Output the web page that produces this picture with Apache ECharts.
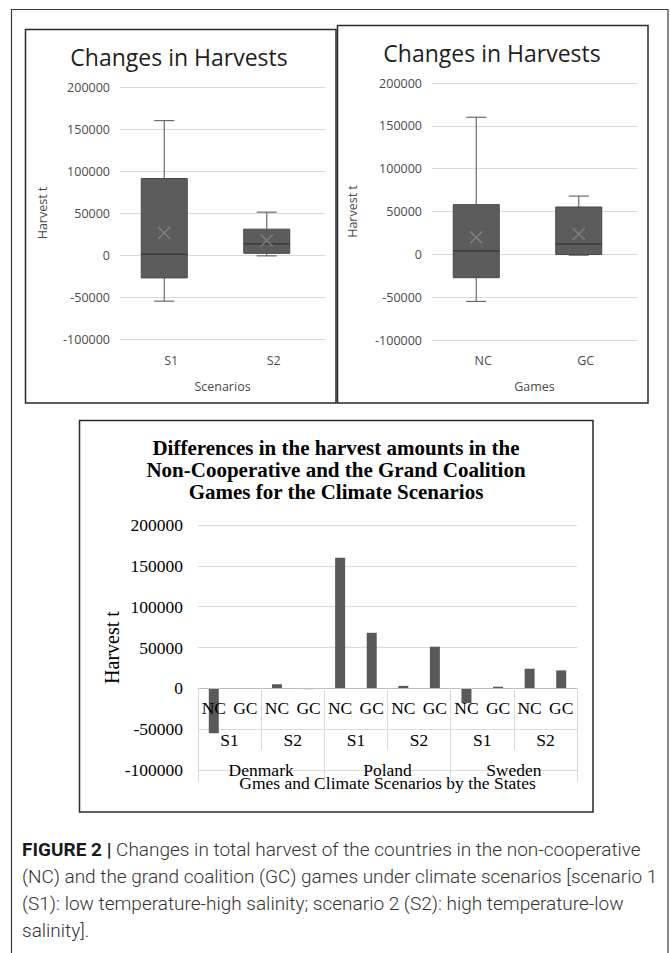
<!DOCTYPE html>
<html>
<head>
<meta charset="utf-8">
<title>Changes in Harvests</title>
<script src="https://cdn.jsdelivr.net/npm/echarts@6/dist/echarts.min.js"></script>
<style>
  html, body { margin: 0; padding: 0; background: #ffffff; }
  #chart { width: 670px; height: 953px; }
</style>
</head>
<body>
<div id="chart"></div>
<script>
// ---- data ----
const yTicks = { min: -100000, max: 200000, step: 50000 };

// box & whisker summaries: [min, Q1, median, Q3, max, mean]
const scenarioNames = ['S1', 'S2'];
const scenarioS1 = [-55000, -27250, 1000, 91000, 160000, 26200];
const scenarioS2 = [-1000, 2000, 13500, 30750, 51000, 17300];

const gameNames = ['NC', 'GC'];
const gameNC = [-55000, -27250, 4000, 58000, 160000, 19800];
const gameGC = [-1000, -250, 12000, 55250, 68000, 23700];

// harvest differences per state, scenario and game
const states = ['Denmark', 'Poland', 'Sweden'];
const scenarios = ['S1', 'S2'];
const games = ['NC', 'GC'];
const denmarkValues = [-55000, 0, 5000, -1000];
const polandValues = [160000, 68000, 3000, 51000];
const swedenValues = [-18000, 2000, 24000, 22000];

// ---- styling ----
const BOX_FILL = '#5c5c5c';
const BOX_EDGE = '#474747';
const WHISKER = '#6a6a6a';
const MEAN_MARK = '#7e7e7e';
const GRID_LINE = '#d9d9d9';
const LABEL = '#4a4a4a';
const SANS = '"Open Sans", Lato, sans-serif';
const SERIF = '"Liberation Serif", "DejaVu Serif", serif';

const BOX_W = 46;
const CAP_W = 20;
const BOX_SHIFT = -7;

function boxData(rows) {
  return rows.map((r, i) => [i].concat(r));
}

function renderBox(params, api) {
  const i = api.value(0);
  const pLo = api.coord([i, api.value(1)]);
  const pQ1 = api.coord([i, api.value(2)]);
  const pMed = api.coord([i, api.value(3)]);
  const pQ3 = api.coord([i, api.value(4)]);
  const pHi = api.coord([i, api.value(5)]);
  const pMean = api.coord([i, api.value(6)]);
  const x = pLo[0] + BOX_SHIFT;
  const hb = BOX_W / 2, hc = CAP_W / 2, m = 6;
  const line = (x1, y1, x2, y2, color, w) => ({
    type: 'line', shape: { x1, y1, x2, y2 },
    style: { stroke: color, lineWidth: w }
  });
  return {
    type: 'group',
    children: [
      line(x, pHi[1], x, pQ3[1], WHISKER, 1.2),
      line(x - hc, pHi[1], x + hc, pHi[1], WHISKER, 1.2),
      line(x, pQ1[1], x, pLo[1], WHISKER, 1.2),
      line(x - hc, pLo[1], x + hc, pLo[1], WHISKER, 1.2),
      {
        type: 'rect',
        shape: { x: x - hb, y: pQ3[1], width: BOX_W, height: pQ1[1] - pQ3[1] },
        style: { fill: BOX_FILL, stroke: BOX_EDGE, lineWidth: 1 }
      },
      line(x - hb, pMed[1], x + hb, pMed[1], '#3a3a3a', 1.5),
      line(x - m, pMean[1] - m, x + m, pMean[1] + m, MEAN_MARK, 1.5),
      line(x - m, pMean[1] + m, x + m, pMean[1] - m, MEAN_MARK, 1.5)
    ]
  };
}

const plainNumber = v => String(v);

function valueAxis(gridIndex, font, size, margin, color) {
  return {
    type: 'value', gridIndex,
    min: yTicks.min, max: yTicks.max, interval: yTicks.step,
    axisLine: { show: false }, axisTick: { show: false },
    axisLabel: { color, fontFamily: font, fontSize: size, margin, formatter: plainNumber },
    splitLine: { lineStyle: { color: GRID_LINE, width: 1 } },
    nameLocation: 'middle', nameRotate: 90, nameMoveOverlap: false
  };
}

// leaf / middle / top labels of the multi-level category axis
const leafLabels = [], midLabels = [];
states.forEach(() => scenarios.forEach(() => games.forEach(g => leafLabels.push(g))));
states.forEach(() => scenarios.forEach(s => midLabels.push(s)));
const barValues = denmarkValues.concat(polandValues, swedenValues);

const LEVEL_OFFSET = -82;

const boxTitleStyle = { fontFamily: SANS, fontSize: 23, fontWeight: 'normal', color: '#1e1e1e', lineHeight: 30 };

const option = {
  animation: false,
  title: [
    { text: 'Changes in Harvests', left: 179, top: 42, padding: 0, textAlign: 'center', textStyle: boxTitleStyle },
    { text: 'Changes in Harvests', left: 492, top: 38, padding: 0, textAlign: 'center', textStyle: boxTitleStyle },
    {
      text: 'Differences in the harvest amounts in the\nNon-Cooperative and the Grand Coalition\nGames for the Climate Scenarios',
      left: 336, top: 437, padding: 0, textAlign: 'center',
      textStyle: { fontFamily: SERIF, fontSize: 21, fontWeight: 'bold', color: '#000000', lineHeight: 22 }
    }
  ],
  grid: [
    { left: 120, top: 87, width: 205, height: 252 },
    { left: 432, top: 83, width: 205, height: 257 },
    { left: 198, top: 525, width: 379, height: 245 }
  ],
  xAxis: [
    {
      type: 'category', gridIndex: 0, data: scenarioNames,
      axisLine: { show: false }, axisTick: { show: false },
      axisLabel: { color: LABEL, fontFamily: SANS, fontSize: 12.5, margin: 15 },
      name: 'Scenarios', nameLocation: 'middle', nameGap: 41, nameMoveOverlap: false,
      nameTextStyle: { color: LABEL, fontFamily: SANS, fontSize: 12.5 }
    },
    {
      type: 'category', gridIndex: 1, data: gameNames,
      axisLine: { show: false }, axisTick: { show: false },
      axisLabel: { color: LABEL, fontFamily: SANS, fontSize: 12.5, margin: 14 },
      name: 'Games', nameLocation: 'middle', nameGap: 40, nameMoveOverlap: false,
      nameTextStyle: { color: LABEL, fontFamily: SANS, fontSize: 12.5 }
    },
    {
      type: 'category', gridIndex: 2, data: leafLabels, position: 'bottom',
      offset: LEVEL_OFFSET, z: 6,
      axisLine: { onZero: false, lineStyle: { color: '#bfbfbf', width: 1 } },
      axisTick: { show: false },
      axisLabel: { color: '#000', fontFamily: SERIF, fontSize: 17.5, margin: 11, interval: 0 }
    },
    {
      type: 'category', gridIndex: 2, data: midLabels, position: 'bottom',
      offset: LEVEL_OFFSET, z: 6,
      axisLine: { show: false, onZero: false },
      axisTick: { show: true, length: 62, lineStyle: { color: GRID_LINE } },
      axisLabel: { color: '#000', fontFamily: SERIF, fontSize: 17.5, margin: 43, interval: 0 }
    },
    {
      type: 'category', gridIndex: 2, data: states, position: 'bottom',
      offset: LEVEL_OFFSET, z: 6,
      axisLine: { show: false, onZero: false },
      axisTick: { show: true, length: 94, lineStyle: { color: GRID_LINE } },
      axisLabel: { color: '#000', fontFamily: SERIF, fontSize: 17.5, margin: 73, interval: 0 },
      name: 'Gmes and Climate Scenarios by the States', nameLocation: 'middle', nameGap: 86,
      nameMoveOverlap: false,
      nameTextStyle: { color: '#000', fontFamily: SERIF, fontSize: 17.5 }
    }
  ],
  yAxis: [
    Object.assign(valueAxis(0, SANS, 12.5, 10, LABEL), { name: 'Harvest t', nameGap: 71,
      nameTextStyle: { color: LABEL, fontFamily: SANS, fontSize: 12.5 } }),
    Object.assign(valueAxis(1, SANS, 12.5, 10, LABEL), { name: 'Harvest t', nameGap: 73,
      nameTextStyle: { color: LABEL, fontFamily: SANS, fontSize: 12.5 } }),
    Object.assign(valueAxis(2, SERIF, 17.5, 15, '#000'), { name: 'Harvest t', nameGap: 76,
      nameTextStyle: { color: '#000', fontFamily: SERIF, fontSize: 20 } })
  ],
  series: [
    {
      type: 'custom', xAxisIndex: 0, yAxisIndex: 0,
      data: boxData([scenarioS1, scenarioS2]),
      encode: { x: 0, y: [1, 2, 3, 4, 5, 6] },
      renderItem: renderBox
    },
    {
      type: 'custom', xAxisIndex: 1, yAxisIndex: 1,
      data: boxData([gameNC, gameGC]),
      encode: { x: 0, y: [1, 2, 3, 4, 5, 6] },
      renderItem: renderBox
    },
    {
      type: 'bar', xAxisIndex: 2, yAxisIndex: 2,
      data: barValues, barWidth: 10,
      itemStyle: { color: '#595959' }
    }
  ],
  graphic: [
    { type: 'rect', shape: { x: 11.5, y: 9.5, width: 656.5, height: 1000 },
      style: { fill: 'none', stroke: '#3a3a3a', lineWidth: 1.2 }, silent: true },
    { type: 'rect', shape: { x: 25.5, y: 29.5, width: 310.5, height: 373.5 },
      style: { fill: 'none', stroke: '#2a2a2a', lineWidth: 1.5 }, silent: true },
    { type: 'rect', shape: { x: 337.5, y: 25.5, width: 310.5, height: 377.5 },
      style: { fill: 'none', stroke: '#2a2a2a', lineWidth: 1.5 }, silent: true },
    { type: 'rect', shape: { x: 79.5, y: 420.5, width: 513.5, height: 391.5 },
      style: { fill: 'none', stroke: '#2a2a2a', lineWidth: 1.5 }, silent: true },
    {
      type: 'text', left: 22, top: 836, silent: true,
      style: {
        text: '{b|FIGURE 2 |} Changes in total harvest of the countries in the non-cooperative\n' +
              '(NC) and the grand coalition (GC) games under climate scenarios [scenario 1\n' +
              '(S1): low temperature-high salinity; scenario 2 (S2): high temperature-low\n' +
              'salinity].',
        fontFamily: 'Roboto, "Liberation Sans", sans-serif',
        fontSize: 19, fontWeight: 300, lineHeight: 27, fill: '#333333',
        rich: {
          b: { fontFamily: 'Roboto, "Liberation Sans", sans-serif', fontSize: 19,
               fontWeight: 'bold', fill: '#1a1a1a', lineHeight: 27 }
        }
      }
    }
  ]
};

const chart = echarts.init(document.getElementById('chart'), null, { renderer: 'svg' });
chart.setOption(option);
</script>
</body>
</html>
